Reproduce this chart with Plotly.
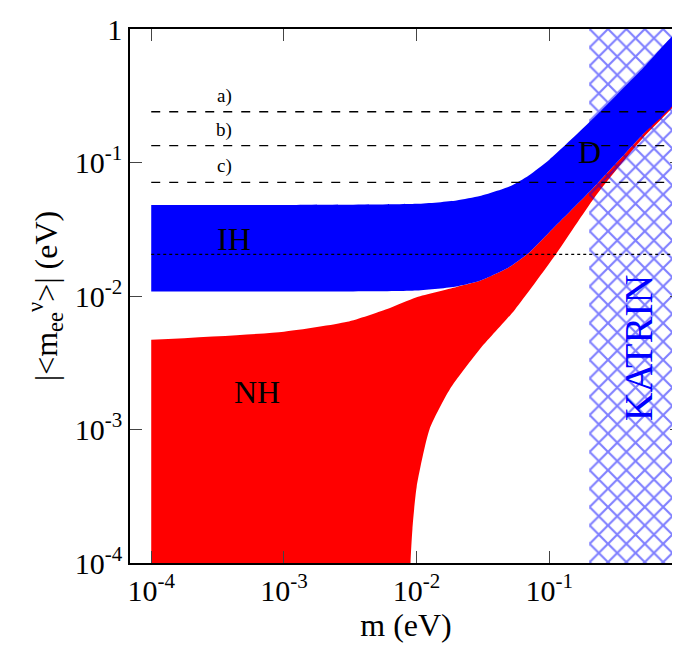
import plotly.graph_objects as go
import math

ih_m = [1e-4, 1e-3, 1e-2, 0.02, 0.03, 0.05, 0.07, 0.1, 0.2, 0.5, 1.0]
ih_up = [0.048, 0.048, 0.049, 0.052, 0.056, 0.066, 0.08, 0.105, 0.2, 0.5, 1.0]
ih_lo_m = [1e-4, 1e-3, 1e-2, 0.02, 0.03, 0.05, 0.07, 0.1, 0.2, 0.5, 1.0]
ih_lo = [0.0108, 0.0108, 0.011, 0.0118, 0.013, 0.0165, 0.021, 0.03, 0.06, 0.16, 0.33]

nh_up_m = [1e-4, 1e-3, 3e-3, 6e-3, 1e-2, 0.02, 0.03, 0.05, 0.07, 0.1, 0.2, 0.5, 1.0]
nh_up = [0.0047, 0.0054, 0.0064, 0.0080, 0.0098, 0.0117, 0.013, 0.0165, 0.021, 0.03, 0.06, 0.16, 0.33]
nh_lo_m = [1.0, 0.5, 0.22, 0.11, 0.055, 0.030, 0.0178, 0.0125, 0.010, 0.0093, 0.009, 0.0088, 1e-4]
nh_lo = [0.31, 0.15, 0.055, 0.02, 0.0079, 0.004, 0.002, 0.001, 0.00037, 0.00018, 0.0001, 0.00001, 0.00001]

lines_a_b_c = [0.24, 0.134, 0.071]
line_labels = ["a)", "b)", "c)"]
dotted_level = 0.0205
katrin_min = 0.2

fig = go.Figure()
fig.add_trace(go.Scatter(x=nh_up_m + nh_lo_m, y=nh_up + nh_lo, fill="toself",
                         fillcolor="red", line=dict(width=0, shape="spline", smoothing=0.6), mode="lines"))
fig.add_trace(go.Scatter(x=ih_m + ih_lo_m[::-1], y=ih_up + ih_lo[::-1], fill="toself",
                         fillcolor="blue", line=dict(width=0, shape="spline", smoothing=0.6), mode="lines"))
fig.add_trace(go.Scatter(x=[katrin_min, 1.2, 1.2, katrin_min], y=[1e-5, 1e-5, 2, 2],
                         fill="toself", mode="lines", line=dict(width=0),
                         fillcolor="rgba(0,0,0,0)",
                         fillpattern=dict(shape="x", fgcolor="blue", bgcolor="rgba(0,0,0,0)",
                                          size=13, solidity=0.3)))
for v, lab in zip(lines_a_b_c, line_labels):
    fig.add_trace(go.Scatter(x=[1e-4, 1.0], y=[v, v], mode="lines",
                             line=dict(color="black", width=1.3, dash="dash")))
    fig.add_annotation(x=-3.45, y=math.log10(v) + 0.12, text=lab, showarrow=False,
                       font=dict(size=19))
fig.add_trace(go.Scatter(x=[1e-4, 1.0], y=[dotted_level, dotted_level], mode="lines",
                         line=dict(color="black", width=1.3, dash="dot")))

fig.add_annotation(x=-3.38, y=-1.57, text="IH", showarrow=False, font=dict(size=32))
fig.add_annotation(x=-3.2, y=-2.72, text="NH", showarrow=False, font=dict(size=32))
fig.add_annotation(x=-0.7, y=-0.92, text="D", showarrow=False, font=dict(size=32))
fig.add_annotation(x=-0.33, y=-2.39, text="KATRIN", showarrow=False, textangle=-90,
                   font=dict(size=40, color="blue"))

xt = [1e-4, 1e-3, 1e-2, 1e-1, 1]
yt = [1e-4, 1e-3, 1e-2, 1e-1, 1]
xl = ["10<sup>-4</sup>", "10<sup>-3</sup>", "10<sup>-2</sup>", "10<sup>-1</sup>", "1"]
yl = ["10<sup>-4</sup>", "10<sup>-3</sup>", "10<sup>-2</sup>", "10<sup>-1</sup>", "1"]

fig.update_layout(
    width=680, height=656, showlegend=False,
    plot_bgcolor="white", paper_bgcolor="white",
    font=dict(family="Liberation Serif", size=30, color="black"),
    margin=dict(l=122, r=4, t=20, b=101),
    xaxis=dict(type="log", range=[-4.16, 0], tickvals=xt, ticktext=xl,
               ticks="inside", ticklen=12, mirror="ticks", showline=True, linecolor="black",
               linewidth=1.5, showgrid=False, zeroline=False,
               title=dict(text="m (eV)", font=dict(size=32), standoff=6)),
    yaxis=dict(type="log", range=[-4, 0], tickvals=yt, ticktext=yl,
               ticks="inside", ticklen=12, mirror="ticks", showline=True, linecolor="black",
               linewidth=1.5, showgrid=False, zeroline=False,
               title=dict(text="|<m<sub>ee</sub><sup>ν</sup>>| (eV)", font=dict(size=32), standoff=8)),
)
fig.write_html("out.html")
